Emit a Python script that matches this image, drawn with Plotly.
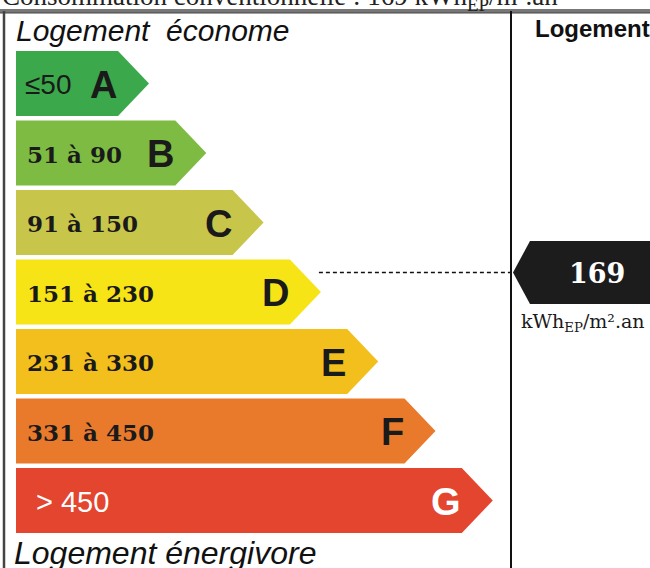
import plotly.graph_objects as go

# ---- data ----
classes = ["A", "B", "C", "D", "E", "F", "G"]
lower_bounds = [None, 51, 91, 151, 231, 331, 451]
upper_bounds = [50, 90, 150, 230, 330, 450, None]
range_labels = ["≤50", "51 à 90", "91 à 150", "151 à 230", "231 à 330", "331 à 450", "> 450"]
class_colors = ["#3ba84b", "#7dbb42", "#c8c64a", "#f7e416", "#f2bf1c", "#e97a2c", "#e4452f"]
value = 169
value_unit = "kWh<sub>EP</sub>/m².an"
top_title = "Consommation conventionnelle : 169 kWh<sub>EP</sub>/m².an"
label_good = "Logement&nbsp; économe"
label_bad = "Logement énergivore"
right_title = "Logement"

# ---- geometry (pixel-like data space) ----
W, H = 650, 568
x_left = 16
y_first = 51
row_pitch = 69.5
bar_h = 65
rect_end0 = 118
rect_step = 57.3
tip_w = 31
divider_x = 511
frame_y = 11

fig = go.Figure()

for i, (cls, lab, col) in enumerate(zip(classes, range_labels, class_colors)):
    yt = y_first + i * row_pitch
    yb = yt + bar_h
    ym = (yt + yb) / 2
    xr = rect_end0 + i * rect_step
    xt = xr + tip_w
    fig.add_trace(go.Scatter(
        x=[x_left, xr, xt, xr, x_left, x_left],
        y=[yt, yt, ym, yb, yb, yt],
        fill="toself", fillcolor=col, mode="lines",
        line=dict(width=0, color=col), hoverinfo="skip", showlegend=False))
    last = (i == len(classes) - 1)
    if i == 0 or last:
        fnt = dict(family="Liberation Sans", size=28 if i == 0 else 29,
                   color="white" if last else "#1a1a1a")
        lx = x_left + (18 if last else 7)
        txt = lab
    else:
        fnt = dict(family="DejaVu Serif", size=23, color="#1a1a1a")
        lx = x_left + 9
        txt = "<b>%s</b>" % lab
    fig.add_annotation(x=lx, y=ym + 1, text=txt,
                       xanchor="left", yanchor="middle", showarrow=False, font=fnt)
    fig.add_annotation(x=xr + 1, y=ym + 1, text="<b>%s</b>" % cls, xanchor="right", yanchor="middle",
                       showarrow=False,
                       font=dict(family="Liberation Sans", size=38,
                                 color="white" if last else "#1a1a1a"))

# value marker row: position of value inside its class
vi = next(i for i, (lo, hi) in enumerate(zip(lower_bounds, upper_bounds))
          if (lo is None or value >= lo) and (hi is None or value <= hi))
d_top = y_first + vi * row_pitch
marker_y = d_top + 13
d_tip = rect_end0 + vi * rect_step + tip_w

# black value arrow
ah = 63
fig.add_trace(go.Scatter(
    x=[divider_x + 2, divider_x + 19, W + 10, W + 10, divider_x + 19, divider_x + 2],
    y=[marker_y, marker_y - ah / 2, marker_y - ah / 2, marker_y + ah / 2, marker_y + ah / 2, marker_y],
    fill="toself", fillcolor="#1c1c1c", mode="lines", line=dict(width=0),
    hoverinfo="skip", showlegend=False))
fig.add_annotation(x=597, y=marker_y + 1, text="<b>%d</b>" % value, showarrow=False,
                   font=dict(family="DejaVu Serif", size=27, color="white"))
fig.add_annotation(x=519, y=marker_y + 50, text=value_unit, xanchor="left", yanchor="middle",
                   showarrow=False, font=dict(family="DejaVu Serif", size=19, color="#1a1a1a"))

# dashed leader
fig.add_shape(type="line", x0=d_tip - 2, x1=divider_x, y0=marker_y, y1=marker_y,
              line=dict(color="#111", width=1.5, dash="4px,3px"))

# frame
fig.add_shape(type="line", x0=0, x1=W, y0=frame_y, y1=frame_y, line=dict(color="#777", width=4))
fig.add_shape(type="line", x0=0, x1=W, y0=frame_y + 2, y1=frame_y + 2, line=dict(color="#444", width=1))
fig.add_shape(type="line", x0=4, x1=4, y0=frame_y, y1=H + 5, line=dict(color="#444", width=2.5))
fig.add_shape(type="line", x0=divider_x, x1=divider_x, y0=frame_y, y1=H + 5, line=dict(color="#111", width=2))

# texts
fig.add_annotation(x=0, y=17, text=top_title, xanchor="left", yanchor="bottom", showarrow=False,
                   font=dict(family="Liberation Serif", size=27, color="#222"))
fig.add_annotation(x=14, y=30, text="<i>%s</i>" % label_good, xanchor="left", yanchor="middle",
                   showarrow=False, font=dict(family="Liberation Sans", size=30, color="#111"))
fig.add_annotation(x=12, y=553, text="<i>%s</i>" % label_bad, xanchor="left", yanchor="middle",
                   showarrow=False, font=dict(family="Liberation Sans", size=32, color="#111"))
fig.add_annotation(x=533, y=28, text="<b>%s</b>" % right_title, xanchor="left", yanchor="middle",
                   showarrow=False, font=dict(family="Liberation Sans", size=24, color="#111"))

fig.update_xaxes(range=[0, W], visible=False, fixedrange=True)
fig.update_yaxes(range=[H, 0], visible=False, fixedrange=True)
fig.update_layout(width=W, height=H, margin=dict(l=0, r=0, t=0, b=0),
                  plot_bgcolor="white", paper_bgcolor="white", showlegend=False)

fig.write_html("out.html", post_script="document.body.style.margin='0';",
               config={"displayModeBar": False})
